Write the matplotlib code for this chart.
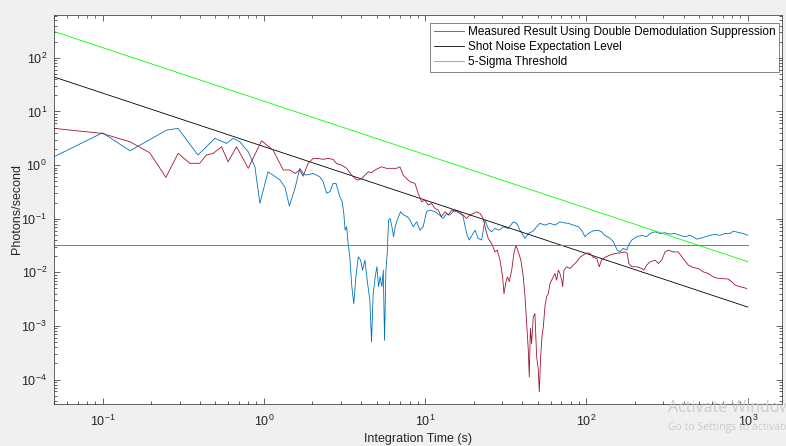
import numpy as np
import matplotlib
matplotlib.use("Agg")
import matplotlib.pyplot as plt
from matplotlib.ticker import LogLocator, NullFormatter

plt.rcParams['font.family'] = ['Liberation Sans', 'DejaVu Sans']
plt.rcParams['axes.unicode_minus'] = False

# measured count rate (double demodulation suppression)
meas_t = [0.05, 0.1, 0.148, 0.25, 0.294, 0.39, 0.497, 0.587, 0.645, 0.71, 0.80, 0.88,
          0.945, 1.06, 1.14, 1.26, 1.35, 1.44, 1.56, 1.67, 1.75, 1.84, 2.02, 2.22, 2.33,
          2.45, 2.57, 2.69, 2.80, 2.96, 3.06, 3.13, 3.19, 3.26, 3.33, 3.41, 3.51, 3.61,
          3.72, 3.85, 3.98, 4.09, 4.23, 4.37, 4.54, 4.65, 4.76, 4.90, 5.02, 5.14, 5.26,
          5.39, 5.50, 5.60, 5.71, 5.82, 5.93, 6.07, 6.22, 6.37, 6.52, 6.71, 7.04, 7.38,
          7.74, 8.04, 8.43, 8.85, 9.28, 9.72, 10.2, 10.7, 11.5, 12.3, 12.9, 13.6, 14.2,
          15.3, 16.4, 17.2, 17.7, 18.2, 18.8, 19.5, 20.4, 21.3, 22.4, 22.9, 23.5, 24.6,
          25.8, 27.1, 28.8, 30.5, 32.7, 35.2, 36.9, 38.7, 41.6, 43.6, 46.8, 49.1, 51.5,
          55.3, 59.4, 63.8, 68.5, 71.8, 77.1, 82.8, 89.0, 93.4, 97.9, 102.6, 110, 118,
          124, 130, 140, 147, 155, 161, 169, 178, 182, 191, 205, 220, 236, 248, 266, 286,
          307, 330, 354, 380, 408, 438, 459, 482, 506, 543, 583, 627, 673, 722, 776, 813,
          874, 938, 1000]
meas_y = [1.43, 4.0, 1.85, 4.5, 4.84, 1.54, 3.15, 2.54, 3.15, 2.72, 1.77, 0.93,
          0.193, 0.75, 0.65, 0.525, 0.39, 0.172, 0.37, 0.87, 0.70, 0.65, 0.70, 0.605, 0.49,
          0.30, 0.32, 0.455, 0.455, 0.257, 0.207, 0.125, 0.061, 0.071, 0.0346, 0.0195, 0.0054, 0.0026,
          0.0082, 0.0195, 0.0169, 0.011, 0.0169, 0.00715, 0.003, 0.0005, 0.004, 0.0082, 0.0127, 0.0054, 0.0082,
          0.0054, 0.011, 0.00054, 0.011, 0.0225, 0.094, 0.101, 0.071, 0.046, 0.071, 0.094, 0.135, 0.117,
          0.109, 0.095, 0.071, 0.0875, 0.061, 0.071, 0.135, 0.145, 0.135, 0.117, 0.101, 0.125, 0.117,
          0.145, 0.135, 0.109, 0.071, 0.049, 0.040, 0.049, 0.061, 0.043, 0.040, 0.061, 0.094, 0.066,
          0.057, 0.066, 0.061, 0.071, 0.066, 0.0875, 0.082, 0.061, 0.043, 0.053, 0.059, 0.071, 0.082,
          0.076, 0.082, 0.076, 0.0875, 0.084, 0.082, 0.076, 0.071, 0.061, 0.046, 0.053, 0.0595, 0.061,
          0.057, 0.049, 0.043, 0.037, 0.026, 0.024, 0.028, 0.026, 0.032, 0.040, 0.046, 0.049, 0.046, 0.053, 0.057, 0.053,
          0.0547, 0.0516, 0.053, 0.049, 0.046, 0.049, 0.046, 0.0416, 0.043, 0.046, 0.049, 0.0508, 0.049, 0.053, 0.053, 0.0587,
          0.0555, 0.053, 0.049]

# second channel (no suppression)
raw_t = [0.05, 0.099, 0.148, 0.196, 0.247, 0.294, 0.348, 0.40, 0.44, 0.485, 0.547, 0.60,
         0.677, 0.80, 0.968, 1.14, 1.32, 1.45, 1.56, 1.67, 1.75, 1.88, 2.02, 2.17, 2.33,
         2.5, 2.69, 2.82, 3.03, 3.26, 3.5, 3.67, 3.85, 4.03, 4.23, 4.44, 4.65, 4.88, 5.12,
         5.37, 5.76, 6.19, 6.65, 6.97, 7.31, 7.67, 8.04, 8.64, 9.06, 9.5, 9.96, 10.45,
         10.96, 11.5, 12.05, 12.6, 13.3, 13.9, 14.6, 15.7, 16.4, 17.2, 18.1, 18.9, 19.9,
         20.8, 21.9, 22.9, 23.8, 24.6, 25.8, 27.1, 28.0, 29.1, 30.2, 30.8, 31.7, 32.4,
         33.2, 34.4, 35.5, 36.5, 37.8, 39.2, 40.6, 41.6, 42.6, 43.6, 44.2, 44.9, 45.7,
         46.8, 47.9, 49.1, 50.3, 51.0, 52.0, 53.0, 54.0, 55.3, 56.6, 58.0, 59.4, 60.8,
         62.3, 63.8, 65.3, 66.9, 68.5, 70.2, 71.2, 72.5, 75.3, 79.0, 82.8, 86.9, 91.2,
         95.5, 100.3, 105, 110, 116, 120, 124, 130, 140, 150, 161, 173, 179, 183, 191,
         205, 220, 227, 236, 248, 266, 279, 293, 307, 322, 345, 371, 398, 428, 459, 494,
         530, 569, 611, 657, 705, 757, 795, 834, 874, 938, 985]
raw_y = [4.84, 3.9, 2.72, 1.70, 0.59, 1.65, 1.08, 1.08, 1.54, 1.65, 2.2, 1.15,
         2.2, 0.87, 2.84, 1.9, 0.81, 0.81, 0.70, 0.81, 0.62, 1.08, 1.33, 1.33, 1.28,
         1.33, 1.28, 1.07, 1.0, 0.87, 0.65, 0.56, 0.525, 0.56, 0.65, 0.75, 0.72, 0.81, 0.87,
         0.93, 0.87, 0.87, 0.87, 0.93, 0.65, 0.56, 0.49, 0.455, 0.296, 0.207, 0.222, 0.18,
         0.193, 0.155, 0.145, 0.109, 0.135, 0.117, 0.145, 0.135, 0.125, 0.117, 0.101, 0.117, 0.125,
         0.135, 0.125, 0.101, 0.061, 0.043, 0.0346, 0.024, 0.026, 0.0169, 0.0082, 0.004, 0.0067, 0.0082,
         0.0067, 0.011, 0.0225, 0.032, 0.024, 0.0169, 0.0082, 0.0035, 0.0011, 0.00035, 0.000112, 0.0009, 0.00047,
         0.0015, 0.0017, 0.00027, 0.00015, 5.9e-5, 0.00027, 0.00063, 0.00096, 0.0023, 0.0035, 0.004, 0.0062, 0.0071,
         0.0082, 0.0095, 0.0071, 0.011, 0.0095, 0.0071, 0.0054, 0.011, 0.0127, 0.0118, 0.0136, 0.0157, 0.019,
         0.021, 0.023, 0.0225, 0.019, 0.018, 0.0127, 0.0169, 0.019, 0.021, 0.0225, 0.023, 0.024, 0.0225, 0.0147, 0.0127,
         0.0127, 0.0118, 0.011, 0.0136, 0.0157, 0.0169, 0.0146, 0.0169, 0.024, 0.026, 0.024, 0.024, 0.018, 0.0136, 0.0123, 0.0118,
         0.0102, 0.0095, 0.0082, 0.0077, 0.0076, 0.0075, 0.0067, 0.0058, 0.0055, 0.0052, 0.005]

# reference levels
line_t = [0.05, 1000]
shot_y = [44, 0.00225]
sigma5_y = [310, 0.0158]
floor_y = [0.032, 0.032]

fig = plt.figure(figsize=(7.86, 4.46), dpi=100, facecolor='#F0F0F0')
ax = fig.add_axes([54 / 786, 1 - 404 / 446, 728 / 786, 389 / 446])
ax.set_facecolor('white')

lw = 0.6
ax.plot(meas_t, meas_y, color='#0072BD', lw=lw,
        label='Measured Result Using Double Demodulation Suppression')
ax.plot(line_t, shot_y, color='black', lw=lw, label='Shot Noise Expectation Level')
ax.plot(line_t, sigma5_y, color='#00FF00', lw=lw, label='5-Sigma Threshold')
ax.plot(raw_t, raw_y, color='#A2142F', lw=lw)
ax.plot(line_t, floor_y, color='#9B5FA8', lw=0.7)

ax.set_xscale('log')
ax.set_yscale('log')
ax.set_xlim(0.05, 1630)
ax.set_ylim(3.5e-5, 630)

for axis in (ax.xaxis, ax.yaxis):
    axis.set_major_locator(LogLocator(base=10, numticks=100))
    axis.set_minor_locator(LogLocator(base=10, subs=np.arange(2, 10), numticks=100))
    axis.set_minor_formatter(NullFormatter())

ax.tick_params(which='both', direction='in', top=True, right=True,
               color='#262626', width=0.5, labelsize=9, labelcolor='#262626')
ax.tick_params(which='major', length=4.5)
ax.tick_params(which='minor', length=2.5)
ax.tick_params(axis='y', pad=5)
ax.tick_params(axis='x', pad=7)
for sp in ax.spines.values():
    sp.set_color('#262626')
    sp.set_linewidth(0.5)

ax.set_xlabel('Integration Time (s)', fontsize=9, color='#262626', labelpad=3)
ax.set_ylabel('Photons/second', fontsize=9, color='#262626', labelpad=-1)

leg = ax.legend(loc='upper right', bbox_to_anchor=(0.996, 0.98), borderaxespad=0,
                fontsize=8.5, frameon=True, fancybox=False, handlelength=2.6,
                handletextpad=0.3, borderpad=0.3, labelspacing=0.25)
leg.get_frame().set_edgecolor('#262626')
leg.get_frame().set_linewidth(0.5)

# windows activation overlay
fig.text(668 / 786, 1 - 412 / 446, 'Activate Windows', fontsize=11.5,
         family=['Open Sans', 'DejaVu Sans'], color='#c6c6c6', alpha=0.85)
fig.text(668 / 786, 1 - 430 / 446, 'Go to Settings to activate Windows.', fontsize=7.5,
         family=['Open Sans', 'DejaVu Sans'], color='#c6c6c6', alpha=0.85)

fig.savefig('out.png', dpi=100, facecolor=fig.get_facecolor())
